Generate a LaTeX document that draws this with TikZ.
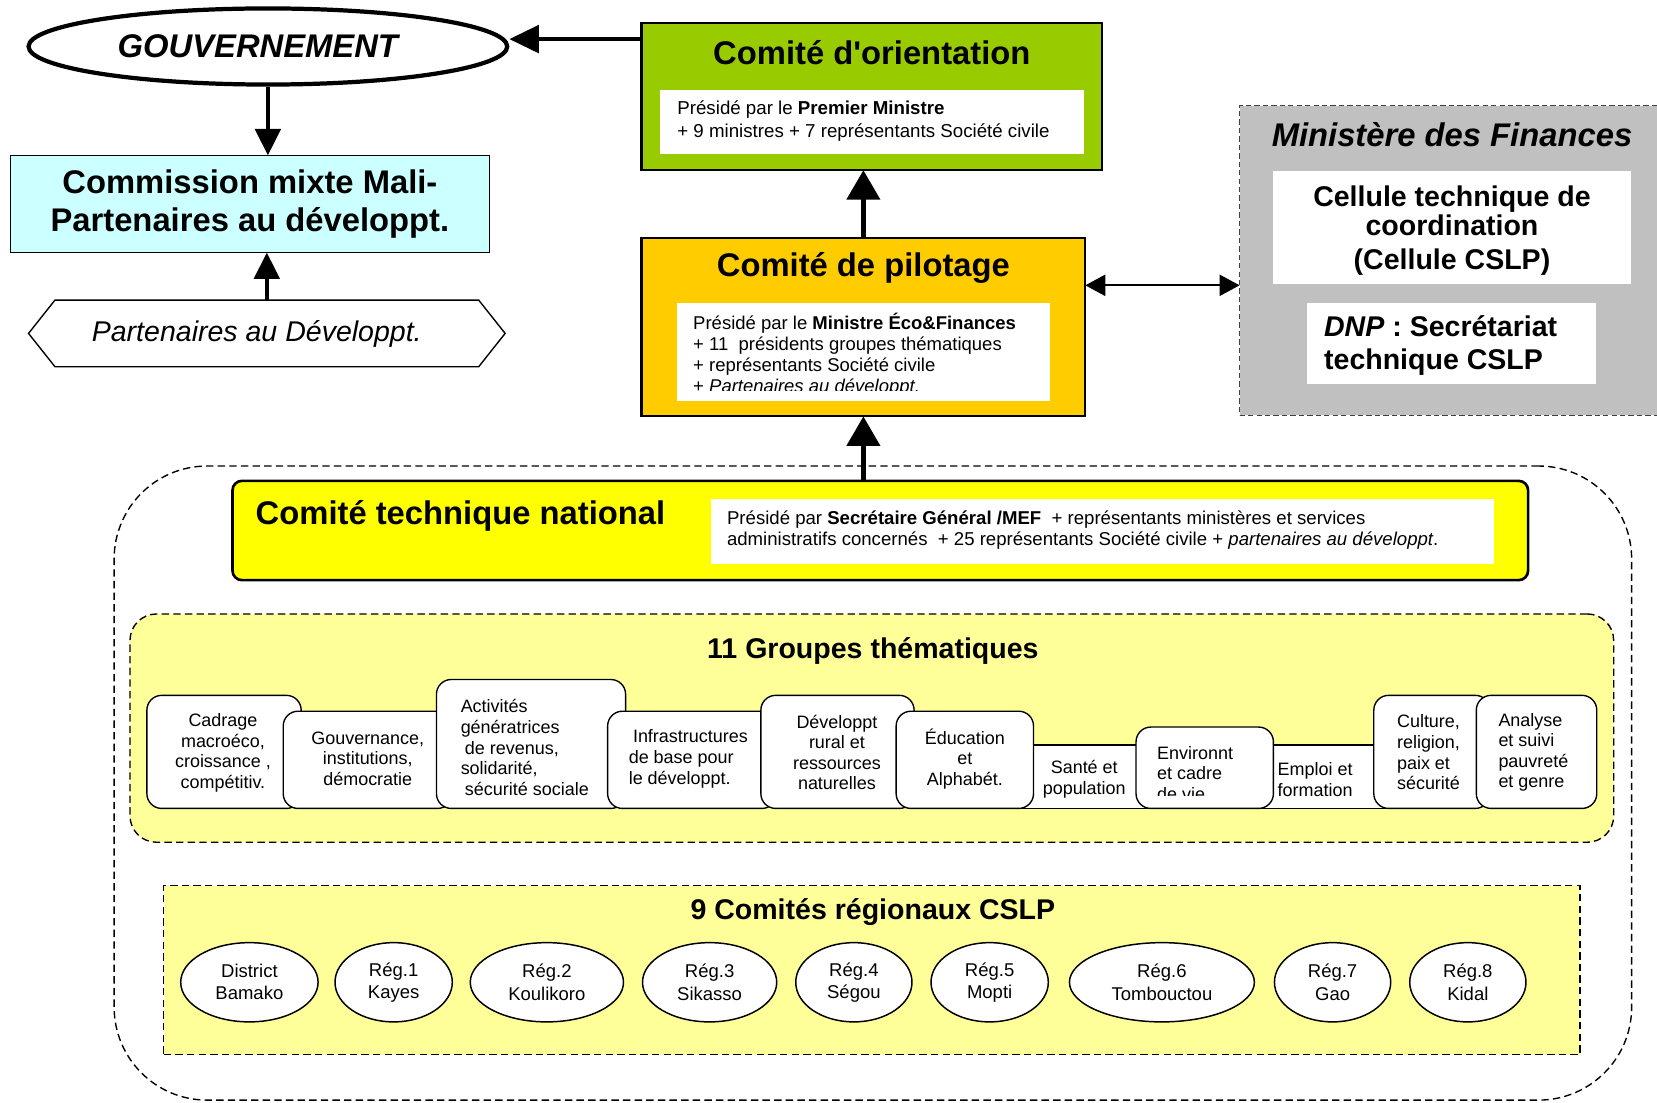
\documentclass[tikz,border=0pt]{standalone}
\usepackage{fontspec}
\setmainfont{Liberation Sans}
\usetikzlibrary{arrows.meta,shapes.geometric,calc}
\definecolor{orientc}{HTML}{99CC00}
\definecolor{pilotc}{HTML}{FFCC00}
\definecolor{commc}{HTML}{CCFFFF}
\definecolor{minisc}{HTML}{C0C0C0}
\definecolor{ctnc}{HTML}{FFFF00}
\definecolor{paley}{HTML}{FFFF99}
\newcommand\fsz[2]{\fontsize{#1}{#2}\selectfont}
\begin{document}
\begin{tikzpicture}[x=1pt,y=-1pt,
  bigarrow/.style={line width=4pt,-{Triangle[length=25pt,width=24pt]}},
  sidearrow/.style={line width=4pt,-{Triangle[length=28pt,width=26pt]}},
  vbigarrow/.style={line width=5pt,-{Triangle[length=28pt,width=31pt]}},
  dblarrow/.style={line width=2pt,{Triangle[length=19pt,width=20pt]}-{Triangle[length=19pt,width=20pt]}},
  boxn/.style={inner sep=0pt,outer sep=0pt},
  wbox/.style={boxn,fill=white},
  txt/.style={inner sep=0pt,outer sep=0pt},
  grp/.style={boxn,draw,fill=white,rounded corners=14pt,line width=1.3pt},
  grpplain/.style={boxn,draw,fill=white,line width=1.3pt},
  reg/.style={ellipse,draw,fill=white,line width=1.4pt,inner sep=0pt,minimum height=75pt,
              font=\fsz{17.5}{21},align=center},
  gtxt/.style={txt,font=\fsz{17}{19.5}},
  dashb/.style={draw,dash pattern=on 7pt off 4pt,line width=1.3pt}]
\useasboundingbox (0,0) rectangle (1568,1043);

% ---------- outer dashed frame
\node[boxn,dashb,rounded corners=88pt,minimum width=1436pt,minimum height=600pt] (outer) at (826,741) {};

% ---------- left column
\node[ellipse,draw,line width=4pt,inner sep=0pt,minimum width=453pt,minimum height=72pt] (gouv) at (253.5,44) {};
\node[txt,font=\fsz{31}{36}\bfseries\itshape] (gouvt) at (244,44) {GOUVERNEMENT};
\node[boxn,draw,line width=1.3pt,fill=commc,minimum width=453pt,minimum height=92pt,
      font=\fsz{31}{36}\bfseries,align=center] (comm) at (236.5,193)
      {Commission mixte Mali-\\Partenaires au développt.};
\node[boxn,minimum width=401pt,minimum height=63pt] (hex) at (252.5,315.5) {};
\draw[line width=1.3pt] ($(hex.west)+(-25,0)$) -- (hex.north west) -- (hex.north east)
      -- ($(hex.east)+(25,0)$) -- (hex.south east) -- (hex.south west) -- cycle;
\node[txt,font=\fsz{27}{30}\itshape] (hext) at (243,316) {Partenaires au Développt.};

% ---------- Comité d'orientation
\node[boxn,draw,line width=2pt,fill=orientc,minimum width=436pt,minimum height=139pt] (orient) at (825,91.5) {};
\node[txt,font=\fsz{31}{36}\bfseries] (orientt) at (825,50) {Comité d\textquotesingle orientation};
\node[wbox,minimum width=401pt,minimum height=61pt] (orientw) at (825.5,115.5) {};
\node[txt,anchor=west,align=left,font=\fsz{17.7}{21}] (orientx) at (641,114.5)
      {Présidé par le \textbf{Premier Ministre}\\+ 9 ministres + 7 représentants Société civile};

% ---------- Comité de pilotage
\node[boxn,draw,line width=2pt,fill=pilotc,minimum width=420pt,minimum height=169pt] (pilot) at (817,309.5) {};
\node[txt,font=\fsz{31}{36}\bfseries] (pilott) at (817,253.5) {Comité de pilotage};
\node[wbox,minimum width=353pt,minimum height=92pt] (pilotw) at (817.5,333) {};
\begin{scope}
\clip (641,287) rectangle (994,369.5);
\node[txt,anchor=west,align=left,font=\fsz{17.5}{20}] (pilotx) at (656,335.5)
      {Présidé par le \textbf{Ministre Éco\&Finances}\\+ 11\ \ présidents groupes thématiques\\
       + représentants Société civile\\+ \textit{Partenaires au développt.}};
\end{scope}

% ---------- Ministère des Finances
\node[boxn,fill=minisc,draw=black!75,dash pattern=on 5pt off 3pt,line width=1.2pt,
      minimum width=427pt,minimum height=293pt] (minis) at (1386.5,246.5) {};
\node[txt,font=\fsz{31}{36}\bfseries\itshape] (minist) at (1374,127.5) {Ministère des Finances};
\node[wbox,minimum width=338pt,minimum height=107pt] (cellw) at (1374,215.5) {};
\node[txt,align=center,font=\fsz{27}{28}\bfseries] (cellx) at (1374,218)
      {Cellule technique de\\coordination\\[4pt](Cellule CSLP)};
\node[wbox,minimum width=273pt,minimum height=76pt] (dnpw) at (1373.5,325) {};
\node[txt,anchor=west,align=left,font=\fsz{27}{32}\bfseries] (dnpx) at (1253,327)
      {\textit{DNP} : Secrétariat\\technique CSLP};

% ---------- Comité technique national
\node[boxn,draw,line width=2.5pt,fill=ctnc,rounded corners=9pt,minimum width=1226pt,minimum height=94pt] (ctn) at (833,502) {};
\node[txt,anchor=west,font=\fsz{31}{36}\bfseries] (ctnt) at (242,488) {Comité technique national};
\node[wbox,minimum width=741pt,minimum height=62pt] (ctnw) at (1043.5,503) {};
\node[txt,anchor=west,align=left,font=\fsz{17.6}{20}] (ctnx) at (688,502)
      {Présidé par \textbf{Secrétaire Général /MEF}\ \ + représentants ministères et services\\
       administratifs concernés\ \ + 25 représentants Société civile + \textit{partenaires au développt}.};

% ---------- 11 Groupes thématiques
\node[boxn,dashb,fill=paley,rounded corners=25pt,minimum width=1404pt,minimum height=216pt] (grps) at (825,689) {};
\node[txt,font=\fsz{27}{30}\bfseries] (grpst) at (826,616) {11 Groupes thématiques};

\node[grp,minimum width=146pt,minimum height=107pt] (g1) at (212,711.5) {};
\node[gtxt,align=center] (g1t) at (211,712.5) {Cadrage\\macroéco,\\croissance ,\\compétitiv.};
\node[grp,minimum width=160pt,minimum height=92pt] (g2) at (348,719) {};
\node[gtxt,align=center] (g2t) at (348,718) {Gouvernance,\\institutions,\\démocratie};
\node[grp,minimum width=179pt,minimum height=122pt] (g3) at (502.5,704) {};
\node[gtxt,align=left,anchor=west] (g3t) at (436,707.5) {Activités\\génératrices\\\hspace*{4pt}de revenus,\\solidarité,\\\hspace*{4pt}sécurité sociale};
\node[grp,minimum width=160pt,minimum height=92pt] (g4) at (655,719) {};
\node[gtxt,align=left,anchor=west] (g4t) at (595,718) {\hspace*{4pt}Infrastructures\\de base pour\\le développt.};
\node[grp,minimum width=145pt,minimum height=107pt] (g5) at (792.5,711.5) {};
\node[gtxt,align=center] (g5t) at (792,712) {Développt\\rural et\\ressources\\naturelles};
\node[grpplain,minimum width=127pt,minimum height=60pt] (g7) at (1026.5,735) {};
\node[grp,minimum width=130pt,minimum height=92pt] (g6) at (913,719) {};
\node[gtxt,align=center] (g6t) at (913,718) {Éducation\\et\\Alphabét.};
\node[gtxt,align=center] (g7t) at (1026,737.5) {Santé et\\population};
\node[grpplain,minimum width=125pt,minimum height=60pt] (g9) at (1252.5,735) {};
\node[gtxt,align=left,anchor=west] (g9t) at (1209,737.5) {Emploi et\\formation};
\node[grp,minimum width=130pt,minimum height=77pt] (g8) at (1140,726.5) {};
\begin{scope}
\clip (1077,690) rectangle (1203,753);
\node[gtxt,align=left,anchor=west] (g8t) at (1095,732) {Environnt\\et cadre\\de vie};
\end{scope}
\node[grp,minimum width=110pt,minimum height=107pt] (g10) at (1355,711.5) {};
\node[gtxt,align=left,anchor=west] (g10t) at (1322,712) {Culture,\\religion,\\paix et\\sécurité};
\node[grp,minimum width=114pt,minimum height=107pt] (g11) at (1454,711.5) {};
\node[gtxt,align=left,anchor=west] (g11t) at (1418,712) {Analyse\\et suivi\\pauvreté\\et genre};

% ---------- 9 Comités régionaux
\node[boxn,dashb,fill=paley,minimum width=1340pt,minimum height=160pt] (regs) at (825,918) {};
\node[txt,font=\fsz{27}{30}\bfseries] (regst) at (826,863) {9 Comités régionaux CSLP};
\node[reg,minimum width=130pt] (r0) at (236,929.5) {District\\Bamako};
\node[reg,minimum width=111pt] (r1) at (372.5,929.5) {Rég.1\\Kayes};
\node[reg,minimum width=145pt] (r2) at (517.5,929.5) {Rég.2\\Koulikoro};
\node[reg,minimum width=127pt] (r3) at (671.5,929.5) {Rég.3\\Sikasso};
\node[reg,minimum width=110pt] (r4) at (808,929.5) {Rég.4\\Ségou};
\node[reg,minimum width=111pt] (r5) at (936.5,929.5) {Rég.5\\Mopti};
\node[reg,minimum width=175pt] (r6) at (1099.5,929.5) {Rég.6\\Tombouctou};
\node[reg,minimum width=110pt] (r7) at (1261,929.5) {Rég.7\\Gao};
\node[reg,minimum width=110pt] (r8) at (1389,929.5) {Rég.8\\Kidal};

% ---------- connectors
\draw[bigarrow] (gouv.south) -- (gouv.south |- comm.north);
\draw[bigarrow] (hex.north) -- (hex.north |- comm.south);
\coordinate (oa) at ($(orient.north west)+(0,15)$);
\draw[sidearrow] (oa) -- (oa -| gouv.east);
\draw[vbigarrow] (pilot.north) -- (pilot.north |- orient.south);
\draw[vbigarrow] (pilot.south |- ctn.north) -- (pilot.south);
\coordinate (pa) at ($(pilot.north east)+(0,45)$);
\draw[dblarrow] (pa) -- (pa -| minis.west);
\end{tikzpicture}
\end{document}
